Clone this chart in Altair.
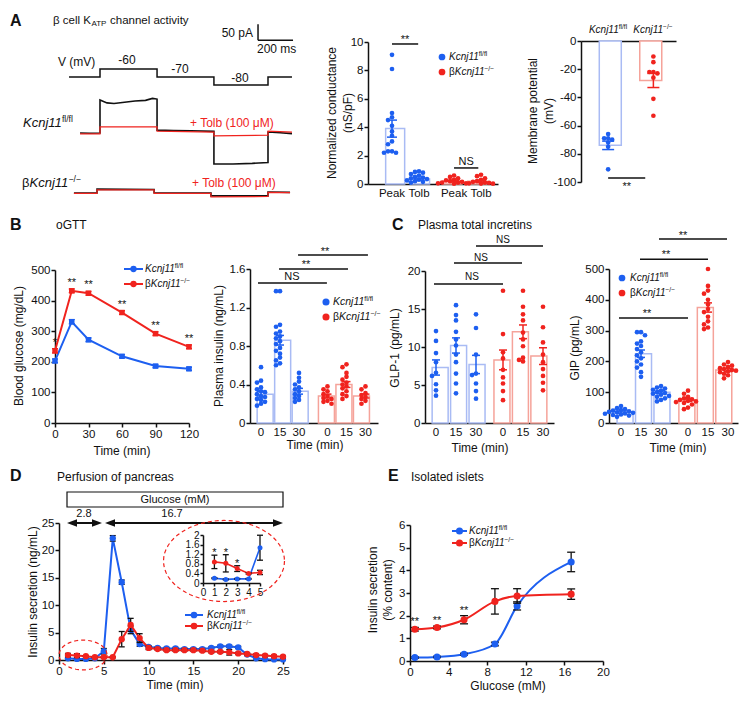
import math
import altair as alt
import pandas as pd

# ======================= values =======================
# A  patch-clamp example (time ms, voltage mV, current pA)
prot_t = [-177, 0, 0, 326, 326, 651, 651, 960, 960, 1097]
prot_v = [-70, -70, -60, -60, -70, -70, -80, -80, -70, -70]
fl_ctrl_t = [-114, -60, 0, 0, 40, 80, 140, 200, 260, 300, 326, 326, 420, 520, 651, 651, 760, 870, 960, 960, 1030, 1097]
fl_ctrl_i = [0, -1, 0, 103, 94, 92, 96, 100, 102, 108, 106, 9, 8, 7, 5, -97, -97, -95, -92, 3, 1, -2]
fl_tolb_t = [-114, 0, 0, 326, 326, 651, 651, 960, 960, 1097]
fl_tolb_i = [-3, -3, 19, 19, 6, 3, -9, -7, 6, 3]
ko_ctrl_t = [-149, -17, -17, 309, 309, 634, 634, 960, 960, 1086]
ko_ctrl_i = [0, 0, 12, 11, 1, 0, -9, -9, 3, 2]
ko_tolb_t = [-149, -17, -17, 309, 309, 634, 634, 960, 960, 1086]
ko_tolb_i = [-1, -1, 10, 10, -1, -1, -12, -11, 2, 1]
scalebar_ms = 200
scalebar_pA = 50

# A  normalized conductance (nS/pF)
cond_labels = ["Peak", "Tolb", "Peak", "Tolb"]
cond_vals = [
    [9.1, 8.1, 5.0, 4.7, 4.5, 4.1, 3.7, 3.4, 3.0, 2.8, 2.3, 2.2, 2.3, 2.2],
    [0.9, 0.85, 0.8, 0.7, 0.6, 0.5, 0.45, 0.4, 0.35, 0.3, 0.25, 0.2, 0.15, 0.1],
    [0.6, 0.5, 0.4, 0.3, 0.25, 0.2, 0.15, 0.1, 0.1, 0.05, 0.05, 0.02],
    [0.65, 0.55, 0.4, 0.3, 0.2, 0.15, 0.1, 0.08, 0.05, 0.03, 0.02],
]
cond_mean = [3.9, 0.35, 0.22, 0.2]
cond_sem = [0.6, 0.07, 0.05, 0.06]
cond_sig = ["**", "NS"]

# A  membrane potential (mV)
mp_vals = [[-66, -69, -69, -70, -72, -75, -91], [-11, -15, -22, -22, -23, -26, -41, -53]]
mp_mean = [-74, -28]
mp_sem = [3, 5]

# B  oGTT blood glucose (mg/dL)
ogtt_t = [0, 15, 30, 60, 90, 120]
ogtt_fl = [203, 331, 272, 218, 186, 177]
ogtt_fl_sem = [6, 7, 6, 5, 5, 5]
ogtt_ko = [236, 432, 424, 361, 292, 249]
ogtt_ko_sem = [7, 6, 6, 6, 6, 6]
ogtt_stars = ["*", "**", "**", "**", "**", "**"]

# B  plasma insulin (ng/mL) at 0/15/30 min, fl/fl then KO
time_labels = ["0", "15", "30", "0", "15", "30"]
ins_vals = [
    [0.58, 0.44, 0.42, 0.37, 0.35, 0.33, 0.32, 0.3, 0.28, 0.27, 0.25, 0.24, 0.22, 0.2, 0.18],
    [1.37, 1.37, 1.02, 1.0, 0.95, 0.93, 0.9, 0.88, 0.85, 0.82, 0.78, 0.75, 0.72, 0.68, 0.65, 0.62, 0.6],
    [0.52, 0.47, 0.43, 0.4, 0.37, 0.35, 0.33, 0.3, 0.28, 0.26, 0.24, 0.22],
    [0.38, 0.35, 0.33, 0.3, 0.28, 0.26, 0.25, 0.23, 0.22, 0.2],
    [0.61, 0.58, 0.52, 0.48, 0.45, 0.42, 0.4, 0.38, 0.36, 0.33, 0.3, 0.28, 0.25],
    [0.38, 0.35, 0.31, 0.29, 0.27, 0.25, 0.23, 0.2],
]
ins_mean = [0.3, 0.86, 0.33, 0.28, 0.40, 0.28]
ins_sem = [0.03, 0.05, 0.03, 0.02, 0.03, 0.02]
ins_sig = ["NS", "**", "**"]

# C  GLP-1 (pg/mL)
glp_vals = [
    [12.1, 10.8, 9.2, 8.0, 6.6, 6.2, 5.1, 4.3, 3.6],
    [15.5, 14.2, 13.5, 12.0, 11.0, 10.2, 9.0, 8.0, 6.5, 5.2, 3.9],
    [14.3, 12.5, 9.0, 6.5, 6.3, 5.2, 4.2, 3.2],
    [17.4, 11.7, 9.3, 8.5, 7.0, 6.0, 5.2, 4.2, 3.0],
    [17.4, 15.3, 14.3, 13.5, 11.9, 11.0, 10.1, 8.6, 8.3, 8.1],
    [15.3, 12.6, 10.6, 9.0, 8.0, 7.1, 6.2, 5.3, 4.3],
]
glp_mean = [7.3, 10.2, 7.7, 8.3, 12.0, 8.8]
glp_sem = [1.0, 1.0, 1.2, 1.3, 0.9, 1.1]
glp_sig = ["NS", "NS", "NS"]

# C  GIP (pg/mL)
gip_vals = [
    [55, 48, 45, 42, 40, 38, 36, 35, 33, 31, 30, 28, 26, 24, 20],
    [295, 295, 285, 265, 258, 250, 240, 230, 220, 210, 200, 190, 180, 165, 150],
    [120, 115, 112, 108, 105, 100, 97, 95, 92, 88, 85, 80, 75, 70],
    [105, 95, 85, 80, 77, 75, 72, 70, 68, 65, 60, 50, 45],
    [500, 445, 430, 420, 400, 385, 370, 360, 345, 330, 320, 310, 305],
    [198, 190, 186, 182, 178, 175, 172, 170, 168, 165, 160, 155, 145],
]
gip_mean = [35, 225, 100, 75, 375, 172]
gip_sem = [4, 12, 5, 5, 15, 5]
gip_sig = ["**", "**", "**"]

# D  pancreas perfusion, insulin secretion (ng/mL)
perf_t = [1, 2, 3, 4, 5, 6, 7, 8, 9, 10, 11, 12, 13, 14, 15, 16, 17, 18, 19, 20, 21, 22, 23, 24, 25]
perf_fl = [0.3, 0.2, 0.2, 0.3, 1.6, 22.2, 14.2, 5.5, 2.9, 2.4, 2.2, 2.1, 2.1, 2.0, 2.0, 2.0, 2.2, 2.5, 2.5, 2.3, 1.0, 0.3, 0.15, 0.1, 0.1]
perf_fl_sem = [0.1, 0.05, 0.05, 0.1, 0.5, 0.5, 0.4, 0.7, 0.4, 0.2, 0.2, 0.2, 0.2, 0.2, 0.2, 0.2, 0.2, 0.2, 0.2, 0.2, 0.2, 0.1, 0.1, 0.1, 0.1]
perf_ko = [0.9, 0.8, 0.7, 0.5, 0.5, 0.5, 3.8, 6.4, 4.0, 2.2, 2.0, 1.8, 1.8, 1.8, 1.8, 1.7, 1.5, 1.5, 1.4, 1.2, 1.1, 0.9, 0.8, 0.7, 0.6]
perf_ko_sem = [0.3, 0.35, 0.1, 0.05, 0.1, 0.1, 1.4, 1.2, 0.8, 0.3, 0.2, 0.2, 0.2, 0.2, 0.2, 0.2, 0.2, 0.2, 0.5, 0.2, 0.2, 0.2, 0.2, 0.2, 0.2]
inset_t = [1, 2, 3, 4, 5]
inset_fl = [0.2, 0.15, 0.17, 0.17, 1.47]
inset_fl_sem = [0.02, 0.02, 0.02, 0.02, 0.52]
inset_ko = [0.88, 0.82, 0.6, 0.4, 0.44]
inset_ko_sem = [0.28, 0.36, 0.12, 0.03, 0.09]
inset_stars = ["*", "*", "*"]
glucose_steps = ["2.8", "16.7"]

# E  isolated islets, insulin secretion (% content)
isl_glc = [0.5, 2.8, 5.6, 8.8, 11.1, 16.7]
isl_fl = [0.15, 0.18, 0.3, 0.75, 2.43, 4.37]
isl_fl_sem = [0.03, 0.03, 0.04, 0.08, 0.18, 0.43]
isl_ko = [1.4, 1.48, 1.82, 2.63, 2.87, 2.95]
isl_ko_sem = [0.08, 0.06, 0.18, 0.56, 0.32, 0.23]
isl_stars = ["**", "**", "**"]

# ======================= styling / layout =======================
OFF = 8
W, H = 735, 687
FONT = "Liberation Sans"
BLACK = "#111111"
BLUE = "#1d5ff0"
RED = "#f0231e"
LBLUE = "#a9bbf4"
LRED = "#f5a39a"

layers = []
ARIAL = {"K": .667, "c": .5, "n": .556, "j": .222, "1": .556, "f": .278, "l": .222,
         "/": .278, "\u2212": .584, "\u03b2": .575, " ": .278, "e": .556, "A": .667,
         "T": .611, "P": .667}


def tw(s, size):
    return sum(ARIAL.get(ch, 0.556) for ch in s) * size


def sc(dom, rng):
    return alt.Scale(domain=list(dom), range=[rng[0] - OFF, rng[1] - OFF], nice=False, zero=False)


def T(x, y, s, size=12, color=BLACK, weight="normal", style="normal", align="left", angle=0, baseline="middle"):
    layers.append(alt.Chart().mark_text(text=s, font=FONT, fontSize=size, color=color, fontWeight=weight,
                                        fontStyle=style, align=align, baseline=baseline, angle=angle)
                  .encode(x=alt.value(x - OFF), y=alt.value(y - OFF)))


def G(x, y, ko, beta, size=10, color=BLACK, align="left"):
    sup = "\u2212/\u2212" if ko else "fl/fl"
    ss = size * 0.66
    bw = tw("\u03b2", size) if beta else 0
    mw = tw("Kcnj11", size) - 0.8
    total = bw + mw + tw(sup, ss)
    x0 = x - total / 2 if align == "center" else x
    if beta:
        T(x0, y, "\u03b2", size, color)
    T(x0 + bw, y, "Kcnj11", size, color, style="italic")
    T(x0 + bw + mw, y - size * 0.3, sup, ss, color)


def AXBASE(size):
    return dict(title=None, grid=False, labelFont=FONT, labelFontSize=size, labelColor=BLACK,
                domainColor=BLACK, tickColor=BLACK, domainWidth=1.5, tickWidth=1.5,
                labelPadding=1, labelFlush=False, labelOverlap=False, labelExpr="'' + datum.value")


def y_axis(xpos, ticks, size=11.5, tick=4):
    return alt.Axis(orient="left", offset=-(xpos - OFF), values=ticks, tickSize=tick, **AXBASE(size))


def x_axis(ypos, ticks=None, size=11.5, tick=4, orient="bottom"):
    off = (ypos - OFF) - H if orient == "bottom" else -(ypos - OFF)
    if ticks is None:
        return alt.Axis(orient=orient, offset=off, title=None, grid=False, labels=False, ticks=False,
                        domainColor=BLACK, domainWidth=1.5)
    return alt.Axis(orient=orient, offset=off, values=ticks, tickSize=tick, **AXBASE(size))


def rule_px(x1, x2, y, color=BLACK, w=1.5):
    layers.append(alt.Chart().mark_rule(color=color, strokeWidth=w)
                  .encode(x=alt.value(x1 - OFF), x2=alt.value(x2 - OFF), y=alt.value(y - OFF)))


def sym_px(x, y, shape, size, color, filled=True, dash=None, w=1.2):
    kw = dict(shape=shape, size=size, color=color, filled=filled, opacity=1, strokeWidth=w)
    if dash:
        kw["strokeDash"] = dash
    layers.append(alt.Chart().mark_point(**kw).encode(x=alt.value(x - OFF), y=alt.value(y - OFF)))


def swarm(vals, center, upx, ppv, d):
    placed, res = [], [0] * len(vals)
    for i in sorted(range(len(vals)), key=lambda k: -vals[k]):
        yp = vals[i] * ppv
        dx = 0
        for k in range(40):
            dx = 0 if k == 0 else ((k + 1) // 2) * d * 0.8 * (-1 if k % 2 else 1)
            if all((dx - a) ** 2 + (yp - b) ** 2 >= (d * 0.75) ** 2 for a, b in placed):
                break
        placed.append((dx, yp))
        res[i] = center + dx / upx
    return res


def dot_panel(vals, means, sems, pos, xd, xr, yd, yr, yaxis, xaxis, barw, cols, lcols, d=5, msize=22, capw=4):
    xsc, ysc = sc(xd, xr), sc(yd, yr)
    upx = (xr[1] - xr[0]) / (xd[1] - xd[0])
    ppv = (yr[0] - yr[1]) / (yd[1] - yd[0])
    n = len(means)
    bdf = pd.DataFrame({"x": pos, "m": means, "lo": [m - s for m, s in zip(means, sems)],
                        "hi": [m + s for m, s in zip(means, sems)], "z": [0] * n, "c": cols, "lc": lcols})
    layers.append(alt.Chart(bdf).mark_bar(size=barw, fill="white", strokeWidth=1.5).encode(
        alt.X("x:Q", scale=xsc, axis=xaxis), alt.Y("m:Q", scale=ysc, axis=yaxis), y2="z:Q",
        stroke=alt.Stroke("lc:N", scale=None)))
    rows = []
    for g, vv in enumerate(vals):
        for a, v in zip(swarm(vv, pos[g], upx, ppv, d), vv):
            rows.append({"x": a, "v": v, "c": cols[g]})
    X = alt.X("x:Q", scale=xsc, axis=None)
    layers.append(alt.Chart(pd.DataFrame(rows)).mark_circle(size=msize, opacity=1).encode(
        X, alt.Y("v:Q", scale=ysc, axis=None), color=alt.Color("c:N", scale=None)))
    layers.append(alt.Chart(bdf).mark_rule(strokeWidth=1.5).encode(
        X, alt.Y("lo:Q", scale=ysc, axis=None), y2="hi:Q", color=alt.Color("c:N", scale=None)))
    for f in ("lo", "hi"):
        layers.append(alt.Chart(bdf).mark_rule(strokeWidth=1.5, xOffset=-capw, x2Offset=capw).encode(
            X, x2="x:Q", y=alt.Y(f + ":Q", scale=ysc, axis=None), color=alt.Color("c:N", scale=None)))
    return xsc, ysc, ppv


def cat_labels(pos, labels, xsc, ypix, size=11.5):
    df = pd.DataFrame({"x": pos, "t": labels})
    layers.append(alt.Chart(df).mark_text(font=FONT, fontSize=size, color=BLACK, baseline="middle").encode(
        alt.X("x:Q", scale=xsc, axis=None), y=alt.value(ypix - OFF), text="t:N"))


def sig(xsc, ysc, ppv, spans, labels, size=11):
    df = pd.DataFrame({"a": [s[0] for s in spans], "b": [s[1] for s in spans], "y": [s[2] for s in spans],
                       "tx": [s[3] for s in spans],
                       "ty": [s[4] - (3 / ppv if lab.startswith("*") else 0) for s, lab in zip(spans, labels)],
                       "t": labels})
    layers.append(alt.Chart(df).mark_rule(strokeWidth=1.5, color=BLACK).encode(
        alt.X("a:Q", scale=xsc, axis=None), x2="b:Q", y=alt.Y("y:Q", scale=ysc, axis=None)))
    layers.append(alt.Chart(df).mark_text(font=FONT, fontSize=size, color=BLACK, baseline="middle").encode(
        alt.X("tx:Q", scale=xsc, axis=None), alt.Y("ty:Q", scale=ysc, axis=None), text="t:N"))


def series(xv, yv, ev, color, xsc, ysc, shape="circle", msize=40, ecol=None, capw=4, interp="linear",
           xaxis=None, yaxis=None, lw=2):
    df = pd.DataFrame({"x": xv, "y": yv, "lo": [a - b for a, b in zip(yv, ev)], "hi": [a + b for a, b in zip(yv, ev)]})
    layers.append(alt.Chart(df).mark_line(color=color, strokeWidth=lw, interpolate=interp).encode(
        alt.X("x:Q", scale=xsc, axis=xaxis), alt.Y("y:Q", scale=ysc, axis=yaxis)))
    X = alt.X("x:Q", scale=xsc, axis=None)
    ec = ecol or color
    layers.append(alt.Chart(df).mark_rule(color=ec, strokeWidth=1.3).encode(
        X, alt.Y("lo:Q", scale=ysc, axis=None), y2="hi:Q"))
    for f in ("lo", "hi"):
        layers.append(alt.Chart(df).mark_rule(color=ec, strokeWidth=1.3, xOffset=-capw, x2Offset=capw).encode(
            X, x2="x:Q", y=alt.Y(f + ":Q", scale=ysc, axis=None)))
    layers.append(alt.Chart(df).mark_point(shape=shape, filled=True, size=msize, color=color, opacity=1).encode(
        X, alt.Y("y:Q", scale=ysc, axis=None)))


def legend_line(x1, x2, y, color, ko, beta, tx, size=10, msize=40):
    rule_px(x1, x2, y, color, 2)
    sym_px((x1 + x2) / 2, y, "circle", msize, color)
    G(tx, y, ko, beta, size)


def legend_dot(x, y, color, ko, beta, tx, size=10, msize=40):
    sym_px(x, y, "circle", msize, color)
    G(tx, y, ko, beta, size)


def ellipse(ratio, n=64):
    pts = [(math.cos(2 * math.pi * k / n), ratio * math.sin(2 * math.pi * k / n)) for k in range(n)]
    return "M " + " L ".join(f"{a:.3f} {b:.3f}" for a, b in pts) + " Z"


# ======================= Panel A =======================
T(10, 21, "A", 16, weight="bold")
t1 = "\u03b2 cell K"
T(53, 21, t1, 11.5)
xa = 53 + tw(t1, 11.5) + 0.5
T(xa, 24, "ATP", 8)
T(xa + tw("ATP", 8) + 3, 21, "channel activity", 11.5)
T(253, 33, "50 pA", 12, align="right")
T(257, 49, "200 ms", 12)
T(58, 62, "V (mV)", 12)
T(127, 60, "-60", 12, align="center")
T(180, 69, "-70", 12, align="center")
T(240, 78, "-80", 12, align="center")

xs_tr = sc([-200, 1100], [65, 292.5])
ys_prot = sc([-80, -60], [85, 69])
ys_fl = sc([0, 100], [133, 101])
ys_ko = sc([0, 100], [193, 161])


def trace(t, v, ysc, color, width=1.4):
    df = pd.DataFrame({"t": t, "v": v, "o": list(range(len(t)))})
    layers.append(alt.Chart(df).mark_line(color=color, strokeWidth=width).encode(
        alt.X("t:Q", scale=xs_tr, axis=None), alt.Y("v:Q", scale=ysc, axis=None), order="o:Q"))


trace(prot_t, prot_v, ys_prot, BLACK, 1.5)
trace(fl_ctrl_t, fl_ctrl_i, ys_fl, BLACK, 1.6)
trace(fl_tolb_t, fl_tolb_i, ys_fl, RED, 1.2)
trace(ko_ctrl_t, ko_ctrl_i, ys_ko, BLACK, 1.6)
trace(ko_tolb_t, ko_tolb_i, ys_ko, RED, 1.2)

sb = pd.DataFrame({"t0": [903], "t1": [903 + scalebar_ms], "i0": [290], "i1": [290 + scalebar_pA]})
layers.append(alt.Chart(sb).mark_rule(color=BLACK, strokeWidth=1.5).encode(
    alt.X("t0:Q", scale=xs_tr, axis=None), x2="t1:Q", y=alt.Y("i0:Q", scale=ys_fl, axis=None)))
layers.append(alt.Chart(sb).mark_rule(color=BLACK, strokeWidth=1.5).encode(
    alt.X("t0:Q", scale=xs_tr, axis=None), alt.Y("i0:Q", scale=ys_fl, axis=None), y2="i1:Q"))

G(23, 123, False, False, 13)
T(190, 123, "+ Tolb (100 \u03bcM)", 12, RED)
G(22, 183, True, True, 13)
T(192, 183, "+ Tolb (100 \u03bcM)", 12, RED)

# conductance
cpos = [0, 1, 2.3, 3.3]
xs_c, ys_c, ppv_c = dot_panel(cond_vals, cond_mean, cond_sem, cpos, [-0.89, 3.93], [368, 498], [0, 10], [184, 42],
                              y_axis(368, [0, 2, 4, 6, 8, 10]), x_axis(184), 19,
                              [BLUE, BLUE, RED, RED], [LBLUE, LBLUE, LRED, LRED], capw=5)
cat_labels(cpos, cond_labels, xs_c, 194)
sig(xs_c, ys_c, ppv_c, [(0, 0.97, 9.86, 0.48, 10.35), (2.3, 3.2, 1.13, 2.75, 1.55)], cond_sig)
T(332, 113, "Normalized conductance", 12, align="center", angle=270)
T(348, 113, "(nS/pF)", 12, align="center", angle=270)
legend_dot(442, 57, BLUE, False, False, 449, 10, 45)
legend_dot(442, 72, RED, True, True, 449, 10, 45)

# membrane potential
xs_m, ys_m, ppv_m = dot_panel(mp_vals, mp_mean, mp_sem, [0, 1], [-0.6, 1.5], [581, 676], [-100, 0], [182, 41],
                              y_axis(581, [0, -20, -40, -60, -80, -100]), x_axis(41, orient="top"), 22,
                              [BLUE, RED], [LBLUE, LRED], capw=6)
sig(xs_m, ys_m, ppv_m, [(0, 0.82, -97.2, 0.41, -101.4)], ["**"])
G(608, 30, False, False, 10, align="center")
G(653, 30, True, False, 10, align="center")
T(533, 111, "Membrane potential", 12, align="center", angle=270)
T(549, 111, "(mV)", 12, align="center", angle=270)

# ======================= Panel B =======================
T(10, 225, "B", 16, weight="bold")
T(56, 225, "oGTT", 12)
xs_g, ys_g = sc([0, 120], [55, 189]), sc([0, 500], [423, 270])
series(ogtt_t, ogtt_fl, ogtt_fl_sem, BLUE, xs_g, ys_g, shape="square", msize=30, capw=3,
       xaxis=x_axis(423, [0, 30, 60, 90, 120]), yaxis=y_axis(55, [0, 100, 200, 300, 400, 500]))
series(ogtt_t, ogtt_ko, ogtt_ko_sem, RED, xs_g, ys_g, shape="square", msize=30, capw=3)
layers.append(alt.Chart(pd.DataFrame({"t": ogtt_t, "v": ogtt_ko, "s": ogtt_stars}))
              .mark_text(font=FONT, fontSize=11, color=BLACK, dy=-8).encode(
    alt.X("t:Q", scale=xs_g, axis=None), alt.Y("v:Q", scale=ys_g, axis=None), text="s:N"))
T(19, 346, "Blood glucose (mg/dL)", 12, align="center", angle=270)
T(122, 451, "Time (min)", 12, align="center")
legend_line(124, 143, 269, BLUE, False, False, 145, 10)
legend_line(124, 143, 284, RED, True, True, 145, 10)

ipos = [0, 1, 2, 3.5, 4.5, 5.5]
six_c = [BLUE, BLUE, BLUE, RED, RED, RED]
six_l = [LBLUE, LBLUE, LBLUE, LRED, LRED, LRED]
xs_i, ys_i, ppv_i = dot_panel(ins_vals, ins_mean, ins_sem, ipos, [-0.58, 6.16], [250, 378], [0, 1.6], [423, 269],
                              y_axis(250, [0, 0.4, 0.8, 1.2, 1.6]), x_axis(423), 16, six_c, six_l)
cat_labels(ipos, time_labels, xs_i, 433)
sig(xs_i, ys_i, ppv_i, [(-0.16, 3.47, 1.455, 1.63, 1.517), (0.95, 4.58, 1.6, 2.37, 1.67),
                        (1.95, 5.63, 1.745, 3.37, 1.81)], ins_sig)
T(219, 346, "Plasma insulin (ng/mL)", 12, align="center", angle=270)
T(315, 445, "Time (min)", 12, align="center")
legend_dot(326, 302, BLUE, False, False, 333, 10.5, 50)
legend_dot(326, 317, RED, True, True, 333, 10.5, 50)

# ======================= Panel C =======================
T(392, 225, "C", 16, weight="bold")
T(418, 225, "Plasma total incretins", 12)
cpos6 = [0, 1, 2, 3.35, 4.35, 5.35]
xs_l, ys_l, ppv_l = dot_panel(glp_vals, glp_mean, glp_sem, cpos6, [-0.55, 5.9], [425, 554], [0, 20], [423, 271],
                              y_axis(425, [0, 5, 10, 15, 20]), x_axis(423), 16, six_c, six_l)
cat_labels(cpos6, time_labels, xs_l, 433)
sig(xs_l, ys_l, ppv_l, [(-0.1, 3.35, 18.3, 1.8, 19.2), (0.9, 4.3, 21.05, 2.25, 21.7),
                        (2.0, 5.35, 23.3, 3.35, 24.1)], glp_sig, size=10)
T(395, 348, "GLP-1 (pg/mL)", 12, align="center", angle=270)
T(480, 448, "Time (min)", 12, align="center")

xs_p, ys_p, ppv_p = dot_panel(gip_vals, gip_mean, gip_sem, cpos6, [-0.6, 5.85], [609, 738], [0, 500], [423, 269],
                              y_axis(609, [0, 100, 200, 300, 400, 500]), x_axis(423), 16, six_c, six_l)
cat_labels(cpos6, time_labels, xs_p, 433)
sig(xs_p, ys_p, ppv_p, [(-0.1, 3.35, 341, 1.3, 364), (0.95, 4.35, 532, 2.25, 555),
                        (1.9, 5.3, 597, 3.1, 617)], gip_sig)
T(575, 348, "GIP (pg/mL)", 12, align="center", angle=270)
T(678, 448, "Time (min)", 12, align="center")
legend_dot(622, 278, BLUE, False, False, 630, 10, 45)
legend_dot(622, 293, RED, True, True, 630, 10, 45)

# ======================= Panel D =======================
T(10, 476, "D", 16, weight="bold")
T(57, 477, "Perfusion of pancreas", 12)
layers.append(alt.Chart().mark_rect(fill="white", stroke=BLACK, strokeWidth=1.2).encode(
    x=alt.value(67 - OFF), x2=alt.value(283 - OFF), y=alt.value(492 - OFF), y2=alt.value(507 - OFF)))
T(175, 500, "Glucose (mM)", 11, align="center")
T(84, 514, glucose_steps[0], 11, align="center")
T(172, 514, glucose_steps[1], 11, align="center")
LEFT_HEAD = "M -1 0 L 1 -0.75 L 1 0.75 Z"
RIGHT_HEAD = "M 1 0 L -1 -0.75 L -1 0.75 Z"
for a, b in [(67, 102), (105, 283)]:
    rule_px(a + 4, b - 4, 523, BLACK, 2)
    sym_px(a + 5, 523, LEFT_HEAD, 100, BLACK)
    sym_px(b - 5, 523, RIGHT_HEAD, 100, BLACK)

xs_d, ys_d = sc([0, 25], [59, 283]), sc([0, 25], [660, 523])
series(perf_t, perf_fl, perf_fl_sem, BLUE, xs_d, ys_d, msize=40, ecol=BLACK, capw=3,
       xaxis=x_axis(660, [0, 5, 10, 15, 20, 25]), yaxis=y_axis(59, [0, 5, 10, 15, 20, 25]))
series(perf_t, perf_ko, perf_ko_sem, RED, xs_d, ys_d, msize=40, ecol=BLACK, capw=3)
T(33, 592, "Insulin secretion (ng/mL)", 12, align="center", angle=270)
T(175, 685, "Time (min)", 12, align="center")
legend_line(185, 203, 615, BLUE, False, False, 207, 10, 45)
legend_line(185, 203, 626, RED, True, True, 207, 10, 45)
sym_px(83, 655, ellipse(0.62), 48 ** 2, RED, filled=False, dash=[4, 3], w=1.2)
sym_px(224, 561, ellipse(0.67), 121 ** 2, RED, filled=False, dash=[4, 3], w=1.2)

xs_n, ys_n = sc([0, 5], [203, 260]), sc([0, 2], [583, 535])
series(inset_t, inset_fl, inset_fl_sem, BLUE, xs_n, ys_n, msize=25, ecol=BLACK, capw=3, lw=1.6,
       xaxis=x_axis(583, [0, 1, 2, 3, 4, 5], size=10, tick=3),
       yaxis=y_axis(203, [0, 0.4, 0.8, 1.2, 1.6, 2], size=10, tick=3))
series(inset_t, inset_ko, inset_ko_sem, RED, xs_n, ys_n, msize=25, ecol=BLACK, capw=3, lw=1.6)
layers.append(alt.Chart(pd.DataFrame({"t": inset_t[:3], "v": [a + b for a, b in zip(inset_ko[:3], inset_ko_sem[:3])],
                                      "s": inset_stars}))
              .mark_text(font=FONT, fontSize=11, color=BLACK, dy=-2).encode(
    alt.X("t:Q", scale=xs_n, axis=None), alt.Y("v:Q", scale=ys_n, axis=None), text="s:N"))

# ======================= Panel E =======================
T(388, 476, "E", 16, weight="bold")
T(411, 477, "Isolated islets", 12)
xs_e, ys_e = sc([0, 20], [410, 603]), sc([0, 6], [661, 525])
series(isl_glc, isl_fl, isl_fl_sem, BLUE, xs_e, ys_e, msize=50, ecol=BLACK, capw=4, interp="monotone",
       xaxis=x_axis(661, [0, 4, 8, 12, 16, 20]), yaxis=y_axis(410, [0, 1, 2, 3, 4, 5, 6]))
series(isl_glc, isl_ko, isl_ko_sem, RED, xs_e, ys_e, msize=50, ecol=BLACK, capw=4, interp="monotone")
layers.append(alt.Chart(pd.DataFrame({"g": isl_glc[:3], "v": [a + b for a, b in zip(isl_ko[:3], isl_ko_sem[:3])],
                                      "s": isl_stars}))
              .mark_text(font=FONT, fontSize=11, color=BLACK, dy=-5).encode(
    alt.X("g:Q", scale=xs_e, axis=None), alt.Y("v:Q", scale=ys_e, axis=None), text="s:N"))
T(373, 590, "Insulin secretion", 12, align="center", angle=270)
T(388, 590, "(% content)", 12, align="center", angle=270)
T(508, 686, "Glucose (mM)", 12, align="center")
legend_line(452, 467, 531, BLUE, False, False, 469, 10, 50)
legend_line(452, 467, 543, RED, True, True, 469, 10, 50)

# ======================= assemble =======================
chart = (alt.layer(*layers, data=pd.DataFrame({"d": [0]}))
         .resolve_scale(x="independent", y="independent")
         .properties(width=W, height=H, padding=0, background="white",
                     autosize=alt.AutoSizeParams(type="none"))
         .configure_view(stroke=None))
chart.save("out.html", embed_options={"renderer": "svg", "actions": False})
